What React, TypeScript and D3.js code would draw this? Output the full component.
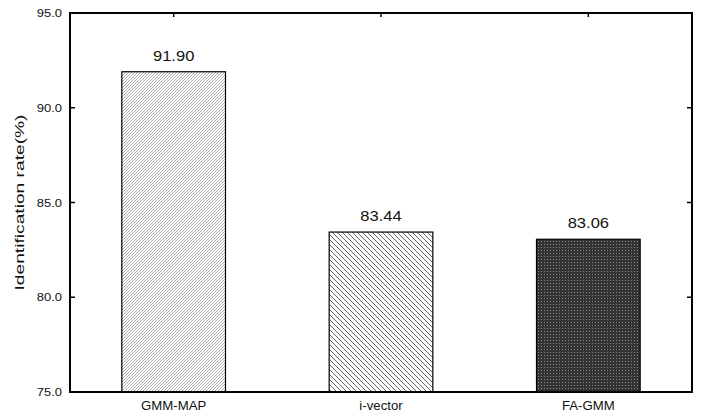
import * as d3 from 'd3'
import { useEffect, useRef } from 'react'

// categories and values
const methods = ['GMM-MAP', 'i-vector', 'FA-GMM']
const rates = [91.9, 83.44, 83.06]
const yTicks = [75, 80, 85, 90, 95]
const patterns = ['hatchFine', 'hatchBack', 'darkGrid']

const width = 701
const height = 412
const marginTop = 13
const marginRight = 9
const marginBottom = 20
const marginLeft = 70

const App = () => {
	const svgRef = useRef<SVGSVGElement>(null)

	useEffect(() => {
		const root = d3.select(svgRef.current)
		root.selectAll('*').remove()
		const svg = root.attr('width', width).attr('height', height)

		// patterns
		const defs = svg.append('defs')
		const p1 = defs.append('pattern').attr('id', 'hatchFine').attr('patternUnits', 'userSpaceOnUse').attr('width', 3).attr('height', 3)
		p1.append('rect').attr('width', 3).attr('height', 3).attr('fill', '#fff')
		p1.append('path').attr('d', 'M-1,1 l2,-2 M0,3 l3,-3 M2,4 l2,-2').attr('stroke', '#999').attr('stroke-width', 0.8)

		const p2 = defs.append('pattern').attr('id', 'hatchBack').attr('patternUnits', 'userSpaceOnUse').attr('width', 5).attr('height', 5)
		p2.append('rect').attr('width', 5).attr('height', 5).attr('fill', '#fff')
		p2.append('path').attr('d', 'M-1,-1 l7,7 M-1,4 l2,2 M4,-1 l2,2').attr('stroke', '#555').attr('stroke-width', 0.9)

		const p3 = defs.append('pattern').attr('id', 'darkGrid').attr('patternUnits', 'userSpaceOnUse').attr('width', 3).attr('height', 3)
		p3.append('rect').attr('width', 3).attr('height', 3).attr('fill', '#333')
		p3.append('rect').attr('x', 1).attr('y', 1).attr('width', 1).attr('height', 1).attr('fill', '#8a8a8a')

		const x = d3
			.scaleBand()
			.domain(methods)
			.range([marginLeft, width - marginRight])
			.paddingInner(0.5)
			.paddingOuter(0.25)

		const y = d3
			.scaleLinear()
			.domain([75, 95])
			.range([height - marginBottom, marginTop])

		// bars
		svg.append('g')
			.selectAll('rect')
			.data(rates)
			.join('rect')
			.attr('x', (d, i) => x(methods[i]) as number)
			.attr('y', (d) => y(d))
			.attr('width', x.bandwidth())
			.attr('height', (d) => y(75) - y(d))
			.attr('fill', (d, i) => `url(#${patterns[i]})`)
			.attr('stroke', '#000')
			.attr('stroke-width', 1.2)

		// value labels (stretched a little, like the original)
		svg.append('g')
			.selectAll('text')
			.data(rates)
			.join('text')
			.attr('transform', (d, i) => `translate(${(x(methods[i]) as number) + x.bandwidth() / 2},${y(d) - 11}) scale(1.18,1)`)
			.attr('text-anchor', 'middle')
			.attr('font-family', 'Liberation Sans, Arial, sans-serif')
			.attr('font-size', 14)
			.attr('fill', '#111')
			.text((d) => d.toFixed(2))

		// frame
		svg.append('rect')
			.attr('x', marginLeft)
			.attr('y', marginTop)
			.attr('width', width - marginRight - marginLeft)
			.attr('height', height - marginBottom - marginTop)
			.attr('fill', 'none')
			.attr('stroke', '#000')
			.attr('stroke-width', 2)

		// y ticks, inside, both sides
		const ax = svg.append('g').attr('stroke', '#000').attr('stroke-width', 1.5)
		ax.selectAll('.tl')
			.data(yTicks)
			.join('line')
			.attr('x1', marginLeft)
			.attr('x2', marginLeft + 5)
			.attr('y1', (d) => y(d))
			.attr('y2', (d) => y(d))
		ax.selectAll('.tr')
			.data(yTicks)
			.join('line')
			.attr('x1', width - marginRight)
			.attr('x2', width - marginRight - 5)
			.attr('y1', (d) => y(d))
			.attr('y2', (d) => y(d))
		ax.selectAll('.tt')
			.data(methods)
			.join('line')
			.attr('x1', (d) => (x(d) as number) + x.bandwidth() / 2)
			.attr('x2', (d) => (x(d) as number) + x.bandwidth() / 2)
			.attr('y1', marginTop)
			.attr('y2', marginTop + 4)

		svg.append('g')
			.selectAll('text')
			.data(yTicks)
			.join('text')
			.attr('transform', (d) => `translate(${marginLeft - 8},${y(d) + 4}) scale(1.18,1)`)
			.attr('text-anchor', 'end')
			.attr('font-family', 'Liberation Sans, Arial, sans-serif')
			.attr('font-size', 11)
			.attr('fill', '#111')
			.text((d) => d.toFixed(1))

		svg.append('g')
			.selectAll('text')
			.data(methods)
			.join('text')
			.attr('transform', (d) => `translate(${(x(d) as number) + x.bandwidth() / 2},${height - 2}) scale(1.1,1)`)
			.attr('text-anchor', 'middle')
			.attr('font-family', 'Liberation Sans, Arial, sans-serif')
			.attr('font-size', 12)
			.attr('fill', '#111')
			.text((d) => d)

		svg.append('text')
			.attr('transform', `translate(24,${(marginTop + height - marginBottom) / 2}) rotate(-90)`)
			.attr('text-anchor', 'middle')
			.attr('font-family', 'Liberation Sans, Arial, sans-serif')
			.attr('font-size', 12)
			.attr('textLength', 176)
			.attr('lengthAdjust', 'spacingAndGlyphs')
			.attr('fill', '#111')
			.text('Identification rate(%)')
	}, [])

	return <svg ref={svgRef} style={{ position: 'absolute', left: 0, top: 0 }}></svg>
}

export default App
